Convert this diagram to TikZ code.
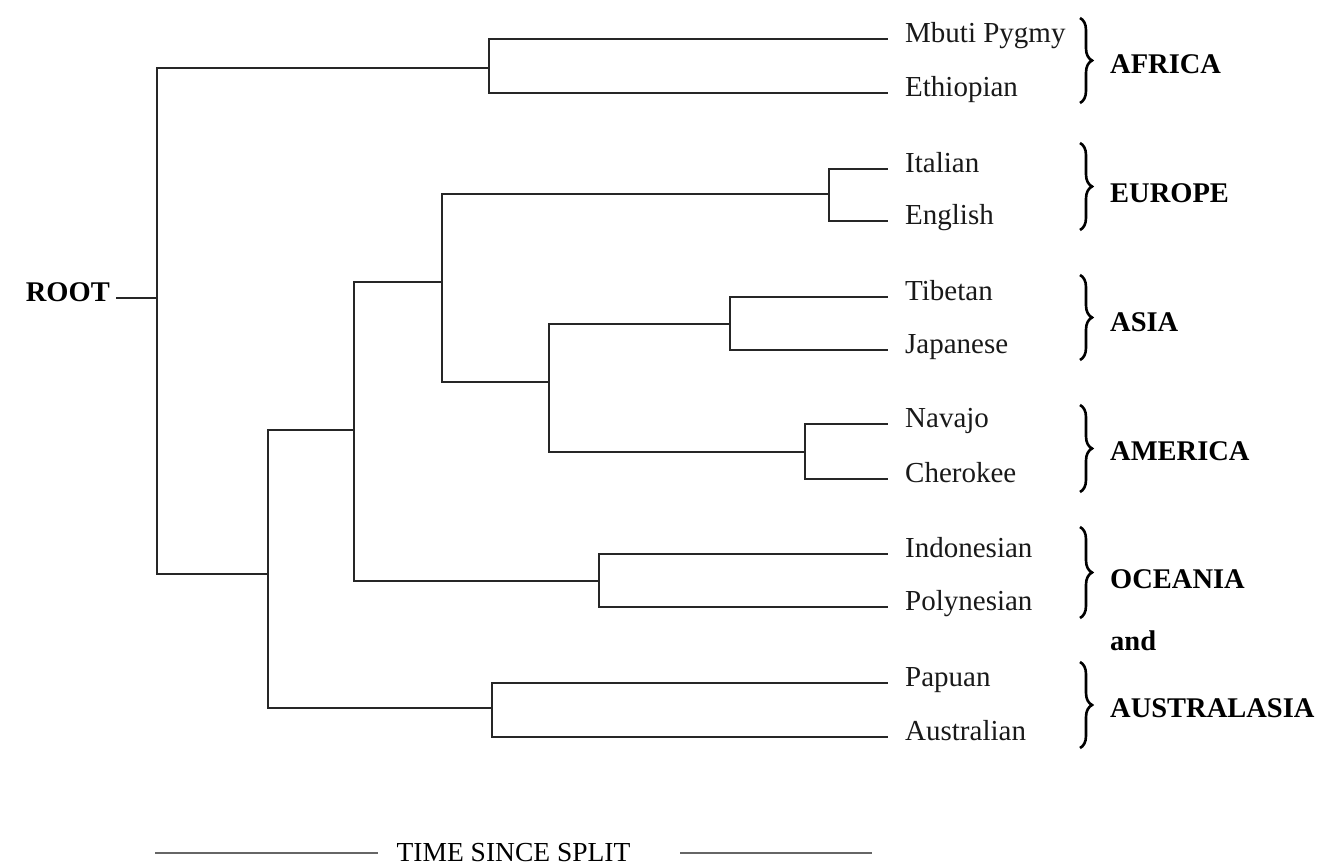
\documentclass[tikz,border=0pt]{standalone}
\usepackage{fontspec}
\setmainfont{Liberation Serif}
\usetikzlibrary{decorations.pathreplacing}

\tikzset{
  branch/.style={draw=black!85, line width=1.8pt},
  leaf/.style={anchor=west, inner xsep=17pt, inner ysep=0pt,
    font=\fontsize{29}{34}\selectfont, text=black!90,
    text height=0.8em, text depth=0.18em},
  region/.style={anchor=base west, inner sep=0pt,
    font=\fontsize{28.5}{34}\selectfont\bfseries, text=black},
  groupbrace/.style={draw=black, line width=2.6pt,
    decorate, decoration={brace, amplitude=12pt}},
  axisline/.style={draw=black!60, line width=1.6pt}
}

\begin{document}
\begin{tikzpicture}[x=1pt, y=-1pt]
\useasboundingbox (0,0) rectangle (1333,866);

% root label and its stem
\node[anchor=east, inner sep=6pt, font=\fontsize{28.5}{34}\selectfont\bfseries, text=black,
      text height=0.8em, text depth=0.18em] (root) at (116,298) {ROOT};
\coordinate (r) at (157,298);

% internal split points: (x of vertical bar, height where the parent joins)
\coordinate (afr) at (489,68);
\coordinate (n1)  at (268,574);
\coordinate (n2)  at (354,430);
\coordinate (n3)  at (442,282);
\coordinate (eur) at (829,194);
\coordinate (n4)  at (549,382);
\coordinate (asi) at (730,324);
\coordinate (ame) at (805,452);
\coordinate (oce) at (599,581);
\coordinate (aus) at (492,708);

% populations
\node[leaf] (mbuti) at (888,39)  {Mbuti Pygmy};
\node[leaf] (eth)   at (888,93)  {Ethiopian};
\node[leaf] (ita)   at (888,169) {Italian};
\node[leaf] (eng)   at (888,221) {English};
\node[leaf] (tib)   at (888,297) {Tibetan};
\node[leaf] (jap)   at (888,350) {Japanese};
\node[leaf] (nav)   at (888,424) {Navajo};
\node[leaf] (che)   at (888,479) {Cherokee};
\node[leaf] (ind)   at (888,554) {Indonesian};
\node[leaf] (pol)   at (888,607) {Polynesian};
\node[leaf] (pap)   at (888,683) {Papuan};
\node[leaf] (aul)   at (888,737) {Australian};

% tree
\draw[branch] (root.east) -- (r);
\draw[branch] (r) |- (afr);
\draw[branch] (r) |- (n1);
\draw[branch] (afr) |- (mbuti.west);
\draw[branch] (afr) |- (eth.west);
\draw[branch] (n1) |- (n2);
\draw[branch] (n1) |- (aus);
\draw[branch] (n2) |- (n3);
\draw[branch] (n2) |- (oce);
\draw[branch] (n3) |- (eur);
\draw[branch] (n3) |- (n4);
\draw[branch] (eur) |- (ita.west);
\draw[branch] (eur) |- (eng.west);
\draw[branch] (n4) |- (asi);
\draw[branch] (n4) |- (ame);
\draw[branch] (asi) |- (tib.west);
\draw[branch] (asi) |- (jap.west);
\draw[branch] (ame) |- (nav.west);
\draw[branch] (ame) |- (che.west);
\draw[branch] (oce) |- (ind.west);
\draw[branch] (oce) |- (pol.west);
\draw[branch] (aus) |- (pap.west);
\draw[branch] (aus) |- (aul.west);

% regional braces
\coordinate (b1t) at (1080,18);  \coordinate (b1b) at (1080,103);
\coordinate (b2t) at (1080,143); \coordinate (b2b) at (1080,230);
\coordinate (b3t) at (1080,275); \coordinate (b3b) at (1080,360);
\coordinate (b4t) at (1080,405); \coordinate (b4b) at (1080,492);
\coordinate (b5t) at (1080,527); \coordinate (b5b) at (1080,618);
\coordinate (b6t) at (1080,662); \coordinate (b6b) at (1080,748);
\draw[groupbrace] (b1t) -- (b1b);
\draw[groupbrace] (b2t) -- (b2b);
\draw[groupbrace] (b3t) -- (b3b);
\draw[groupbrace] (b4t) -- (b4b);
\draw[groupbrace] (b5t) -- (b5b);
\draw[groupbrace] (b6t) -- (b6b);

% region names
\node[region] (africa)  at (1110,74)  {AFRICA};
\node[region] (europe)  at (1110,203) {EUROPE};
\node[region] (asia)    at (1110,332) {ASIA};
\node[region] (america) at (1110,460) {AMERICA};
\node[region] (oceania) at (1110,588) {OCEANIA};
\node[region] (and)     at (1110,650) {and};
\node[region] (austral) at (1110,717) {AUSTRALASIA};

% time axis
\node[anchor=base, inner sep=0pt, font=\fontsize{27.5}{32}\selectfont, text=black]
      (time) at (513.5,861) {TIME SINCE SPLIT};
\coordinate (tl)  at (155,853);
\coordinate (tlr) at (378,853);
\coordinate (trl) at (680,853);
\coordinate (tr)  at (872,853);
\draw[axisline] (tl) -- (tlr);
\draw[axisline] (trl) -- (tr);
\end{tikzpicture}
\end{document}
